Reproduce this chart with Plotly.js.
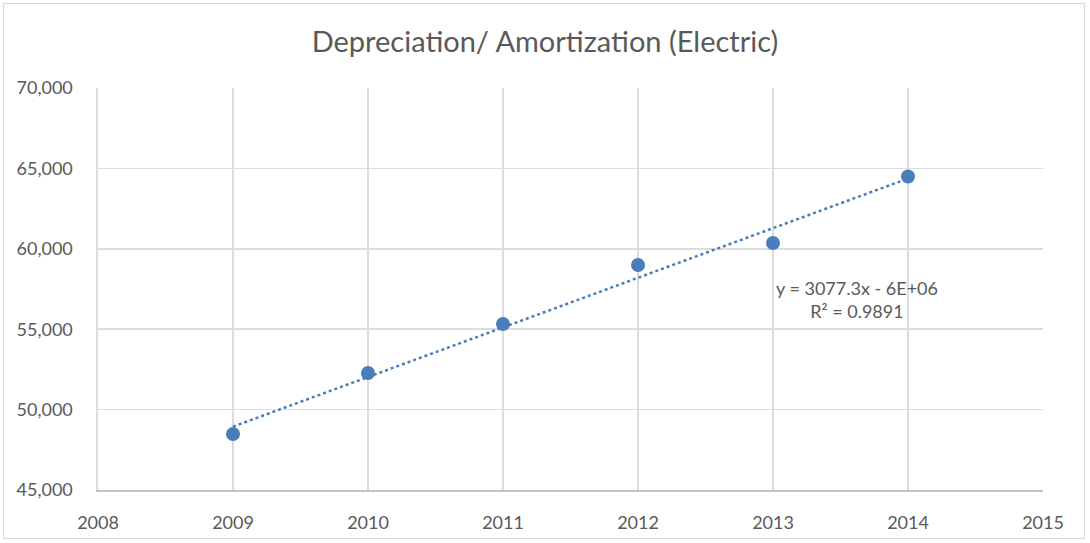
<!DOCTYPE html>
<html>
<head>
<meta charset="utf-8">
<script src="https://cdn.plot.ly/plotly-3.0.1.min.js"></script>
<style>
html,body{margin:0;padding:0;background:#fff;}
#wrap{position:absolute;left:0;top:0;width:1090px;height:543px;}
#frame{position:absolute;left:3px;top:3px;width:1082px;height:536px;border:1px solid #d9d9d9;box-sizing:border-box;pointer-events:none;}
#chart{width:1090px;height:543px;}
</style>
</head>
<body>
<div id="wrap"><div id="chart"></div><div id="frame"></div></div>
<script>
const years = [2009, 2010, 2011, 2012, 2013, 2014];
const values = [48480, 52280, 55320, 58990, 60360, 64500];
const xTicks = [2008, 2009, 2010, 2011, 2012, 2013, 2014, 2015];
const yTicks = [45000, 50000, 55000, 60000, 65000, 70000];
const chartTitle = 'Depreciation/ Amortization (Electric)';
const equationText = 'y = 3077.3x - 6E+06<br>R² = 0.9891';

// least-squares linear trendline
const n = years.length;
const mx = years.reduce((a,b)=>a+b,0)/n;
const my = values.reduce((a,b)=>a+b,0)/n;
let sxy = 0, sxx = 0;
for (let i=0;i<n;i++){ sxy += (years[i]-mx)*(values[i]-my); sxx += (years[i]-mx)**2; }
const slope = sxy/sxx, intercept = my - slope*mx;
const trendX = [years[0], years[n-1]];
const trendY = trendX.map(x => slope*x + intercept);

const font = 'Lato, "Open Sans", sans-serif';
const gray = '#595959';

const data = [
  {x: trendX, y: trendY, mode: 'lines', type: 'scatter',
   line: {color: '#4a7ebb', width: 2.5, dash: 'dot'}, hoverinfo: 'skip'},
  {x: years, y: values, mode: 'markers', type: 'scatter',
   marker: {color: '#4a7ebb', size: 14}}
];

const layout = {
  width: 1090, height: 543,
  margin: {l: 98, r: 47, t: 88, b: 53},
  paper_bgcolor: '#fff', plot_bgcolor: '#fff',
  showlegend: false,
  title: {text: chartTitle, font: {family: font, size: 29, color: gray}, x: 0.5, xanchor: 'center', y: 0.923, yanchor: 'middle'},
  xaxis: {range: [2008, 2015], tickvals: xTicks, ticktext: xTicks.map(String),
          showgrid: true, gridcolor: '#dcdcdc', gridwidth: 1.6,
          showline: true, linecolor: '#c4c4c4', linewidth: 1.6,
          zeroline: false, ticks: '', ticklen: 0, ticklabelstandoff: 16,
          tickfont: {family: font, size: 18, color: gray}},
  yaxis: {range: [45000, 70000], tickvals: yTicks, ticktext: yTicks.map(v => v.toLocaleString('en-US')),
          showgrid: true, gridcolor: '#dcdcdc', gridwidth: 1.6,
          showline: true, linecolor: '#dcdcdc', linewidth: 1.6,
          zeroline: false, ticks: '', ticklen: 0, ticklabelstandoff: 20,
          tickfont: {family: font, size: 18, color: gray}},
  annotations: [{
    x: 2013.62, y: 56850, xref: 'x', yref: 'y', text: equationText,
    showarrow: false, align: 'center',
    font: {family: font, size: 18, color: gray}
  }]
};

Plotly.newPlot('chart', data, layout, {displayModeBar: false, staticPlot: true});
</script>
</body>
</html>
